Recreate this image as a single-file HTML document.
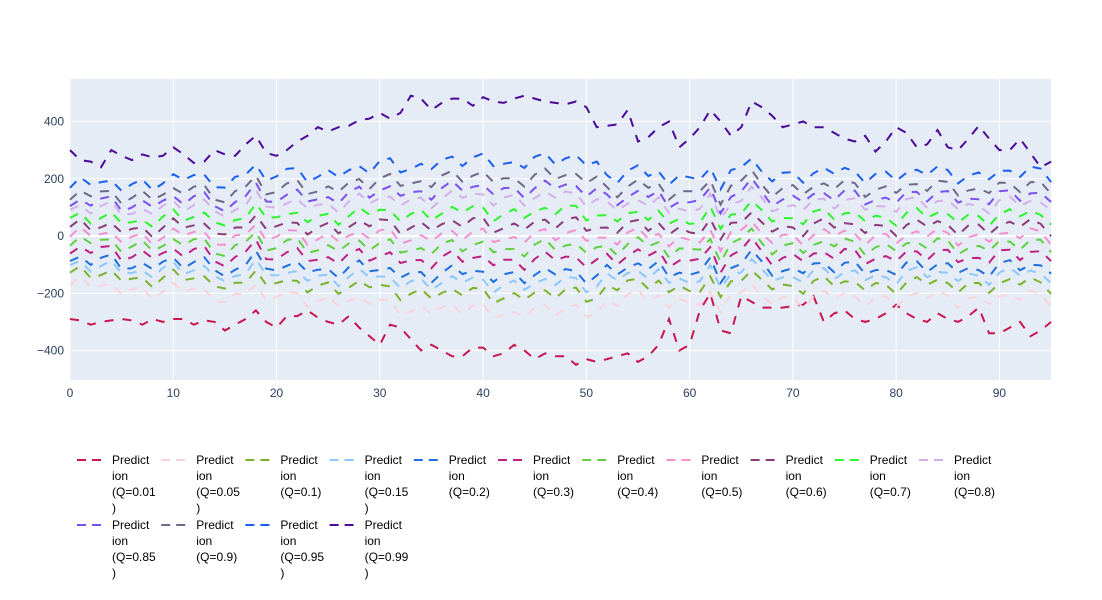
<!DOCTYPE html>
<html><head><meta charset="utf-8"><style>
body{margin:0;background:#fff;font-family:"Liberation Sans",Arial,sans-serif}
</style></head><body>
<svg id="s" width="1102" height="600" xmlns="http://www.w3.org/2000/svg" style="display:block">
<rect x="70" y="79" width="981" height="301" fill="#e5ecf6"/>
<g id="grid"></g><g id="lines"></g><g id="axes" font-size="12" fill="#2a3f5f"></g><g id="leg" font-size="12" fill="#000"></g>
</svg>
<script>
const X=v=>70+v*10.327, Y=v=>236-v*0.28625;
const ns="http://www.w3.org/2000/svg";
function el(p,t,a,txt){const e=document.createElementNS(ns,t);for(const k in a)e.setAttribute(k,a[k]);if(txt!==undefined)e.textContent=txt;document.getElementById(p).appendChild(e);return e;}
for(let v=0;v<=90;v+=10){el('grid','line',{x1:X(v),x2:X(v),y1:79,y2:380,stroke:'#fff','stroke-width':1});el('axes','text',{x:X(v),y:397,'text-anchor':'middle'},v);}
for(const v of [-400,-200,0,200,400]){el('grid','line',{x1:70,x2:1051,y1:Y(v),y2:Y(v),stroke:'#fff','stroke-width':v==0?2:1});el('axes','text',{x:64,y:Y(v)+4,'text-anchor':'end'},v<0?'\u2212'+(-v):v);}
const q99=[300,265,260,240,300,280,265,285,275,280,310,285,255,260,300,285,280,320,350,290,280,300,330,350,380,365,380,385,405,410,430,410,430,490,480,440,465,480,480,455,485,470,465,480,490,480,470,465,460,470,450,380,385,390,440,330,345,380,400,310,340,380,440,400,350,380,470,450,420,380,390,400,380,380,360,340,330,350,295,330,380,360,310,320,370,310,300,340,385,340,300,300,340,290,240,260];
const q01=[-290,-295,-310,-300,-295,-290,-295,-310,-290,-300,-290,-290,-310,-295,-300,-330,-310,-290,-260,-300,-320,-280,-280,-260,-285,-300,-310,-280,-320,-350,-380,-310,-320,-360,-400,-380,-400,-420,-420,-390,-390,-420,-410,-380,-400,-430,-410,-420,-420,-450,-430,-440,-430,-420,-410,-440,-420,-380,-290,-400,-380,-260,-200,-330,-340,-210,-230,-250,-250,-250,-245,-240,-210,-300,-270,-260,-290,-300,-290,-270,-240,-270,-290,-300,-270,-290,-300,-280,-250,-340,-340,-320,-300,-350,-330,-300];
const jump={15:-25,16:-10,17:30,18:45,19:-35,58:-50,59:15,60:-15,61:-20,62:55,63:-60,64:-15,65:25,66:40};
function mid(x){return 20*Math.sin(x*2.1)+12*Math.sin(x*0.7)+(jump[x]||0);}
function sig(x){if(x<30)return 105+x*1.2;if(x<52)return 148+Math.min(x-30,10)*1.2;return 132;}
const qs=[[0.05,-1.645,'#f8d3d8'],[0.1,-1.2816,'#7cb32b'],[0.15,-1.036,'#8ec8f8'],[0.2,-0.8416,'#1e6fe0'],[0.3,-0.5244,'#c02080'],[0.4,-0.2533,'#60d040'],[0.5,0,'#f48fd0'],[0.6,0.2533,'#8b3a7a'],[0.7,0.5244,'#2cf52c'],[0.8,0.8416,'#d4b0e8'],[0.85,1.036,'#7b50f0'],[0.9,1.2816,'#706888'],[0.95,1.645,'#1a5ff0']];
function path(arr,c){let d='';arr.forEach((v,i)=>{d+=(i?'L':'M')+X(i).toFixed(1)+','+Y(v).toFixed(1);});el('lines','path',{d:d,fill:'none',stroke:c,'stroke-width':2,'stroke-dasharray':'9,9'});}
path(q01,'#c8174d');
qs.forEach(([q,z,c],k)=>{const a=[];for(let x=0;x<=95;x++)a.push(mid(x)+z*sig(x)+8*Math.sin(x*1.3+k));path(a,c);});
path(q99,'#4a0a9a');
const names=[['0.01','#c8174d'],['0.05','#f8d3d8'],['0.1','#7cb32b'],['0.15','#8ec8f8'],['0.2','#1e6fe0'],['0.3','#c02080'],['0.4','#60d040'],['0.5','#f48fd0'],['0.6','#8b3a7a'],['0.7','#2cf52c'],['0.8','#d4b0e8'],['0.85','#7b50f0'],['0.9','#706888'],['0.95','#1a5ff0'],['0.99','#4a0a9a']];
names.forEach(([n,c],i)=>{const col=i<11?i:i-11,row=i<11?0:1;const x=77+col*84.2,y=460+row*65;
el('leg','line',{x1:x,x2:x+28,y1:y,y2:y,stroke:c,'stroke-width':2,'stroke-dasharray':'9,6'});
const lines=['Predict','ion'];const t='(Q='+n+')';if(t.length>7){lines.push('(Q='+n);lines.push(')');}else lines.push(t);
lines.forEach((s,j)=>el('leg','text',{x:x+35,y:y+4+j*16},s));});
</script>
</body></html>
